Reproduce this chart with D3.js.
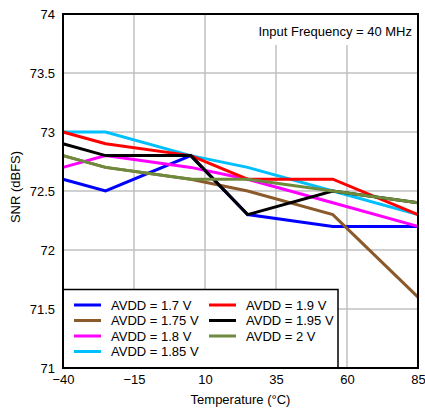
<!DOCTYPE html>
<html><head><meta charset="utf-8">
<script src="https://cdn.jsdelivr.net/npm/d3@7"></script>
<style>body{margin:0;background:#fff;} text{font-family:"Liberation Sans",Arial,sans-serif;}</style>
</head><body>
<svg id="c" width="425" height="408"></svg>
<script>
const temps = [-40, -25, 5, 25, 55, 85];
const seriesNames = ["AVDD = 1.7 V","AVDD = 1.75 V","AVDD = 1.8 V","AVDD = 1.85 V","AVDD = 1.9 V","AVDD = 1.95 V","AVDD = 2 V"];
const seriesColors = ["#0000FF","#8B5A2B","#FF00FF","#00BFFF","#FF0000","#000000","#6E8B3D"];
const avdd170 = [72.6, 72.5, 72.8, 72.3, 72.2, 72.2];
const avdd175 = [72.8, 72.7, 72.6, 72.5, 72.3, 71.6];
const avdd180 = [72.7, 72.8, 72.7, 72.6, 72.4, 72.2];
const avdd185 = [73.0, 73.0, 72.8, 72.7, 72.5, 72.3];
const avdd190 = [73.0, 72.9, 72.8, 72.6, 72.6, 72.3];
const avdd195 = [72.9, 72.8, 72.8, 72.3, 72.5, 72.4];
const avdd200 = [72.8, 72.7, 72.6, 72.6, 72.5, 72.4];
const xTicks = [-40, -15, 10, 35, 60, 85];
const yTicks = [71, 71.5, 72, 72.5, 73, 73.5, 74];
const allSeries = [avdd170, avdd175, avdd180, avdd185, avdd190, avdd195, avdd200];

const L = 63, R = 418, T = 14, B = 368;
const FS = 13;
const svg = d3.select("#c");
const x = d3.scaleLinear().domain([-40, 85]).range([L, R]);
const y = d3.scaleLinear().domain([71, 74]).range([B, T]);

// grid
svg.append("g").selectAll("line").data(xTicks.slice(1, -1)).join("line")
  .attr("x1", d => x(d)).attr("x2", d => x(d)).attr("y1", T).attr("y2", B)
  .attr("stroke", "#c0c0c0").attr("stroke-width", 1.5);
svg.append("g").selectAll("line").data(yTicks.slice(1, -1)).join("line")
  .attr("y1", d => y(d)).attr("y2", d => y(d)).attr("x1", L).attr("x2", R)
  .attr("stroke", "#c0c0c0").attr("stroke-width", 1.5);

// annotation background
svg.append("rect").attr("x", 254).attr("y", T + 1).attr("width", R - 255).attr("height", 30).attr("fill", "#fff");
svg.append("text").attr("x", 412).attr("y", 36).attr("text-anchor", "end")
  .attr("font-size", FS).attr("fill", "#000").text("Input Frequency = 40 MHz");

// lines
const line = d3.line().x((d, i) => x(temps[i])).y(d => y(d));
svg.append("g").selectAll("path").data(allSeries).join("path")
  .attr("d", d => line(d)).attr("fill", "none")
  .attr("stroke", (d, i) => seriesColors[i]).attr("stroke-width", 3)
  .attr("stroke-linejoin", "miter");

// legend
const lg = svg.append("g");
lg.append("rect").attr("x", L).attr("y", 289.5).attr("width", 338 - L).attr("height", B - 289.5)
  .attr("fill", "#fff").attr("stroke", "#000").attr("stroke-width", 1.5);
const rowY = [305, 320.5, 336, 351.5];
seriesNames.forEach((n, i) => {
  const col = i < 4 ? 0 : 1;
  const row = i < 4 ? i : i - 4;
  const lx = col === 0 ? 74 : 209;
  const yy = rowY[row];
  lg.append("line").attr("x1", lx).attr("x2", lx + 27).attr("y1", yy).attr("y2", yy)
    .attr("stroke", seriesColors[i]).attr("stroke-width", 3);
  lg.append("text").attr("x", lx + 37).attr("y", yy + 4.5).attr("font-size", FS).attr("fill", "#000").text(n);
});

// frame
svg.append("rect").attr("x", L).attr("y", T).attr("width", R - L).attr("height", B - T)
  .attr("fill", "none").attr("stroke", "#000").attr("stroke-width", 2);

// axes
const xa = svg.append("g").attr("transform", `translate(0,${B})`)
  .call(d3.axisBottom(x).tickValues(xTicks).tickSize(0).tickPadding(7).tickFormat(d => d < 0 ? "\u2212" + Math.abs(d) : d));
const ya = svg.append("g").attr("transform", `translate(${L},0)`)
  .call(d3.axisLeft(y).tickValues(yTicks).tickSize(0).tickPadding(8).tickFormat(d3.format("")));
[xa, ya].forEach(a => {
  a.select(".domain").remove();
  a.selectAll("text").attr("font-size", FS).attr("fill", "#000").attr("font-family", "Liberation Sans, Arial, sans-serif");
});

svg.append("text").attr("x", (L + R) / 2).attr("y", 404).attr("text-anchor", "middle")
  .attr("font-size", FS).attr("fill", "#000").text("Temperature (\u00B0C)");
svg.append("text").attr("transform", `translate(20,${(T + B) / 2 - 4}) rotate(-90)`).attr("text-anchor", "middle")
  .attr("font-size", FS).attr("fill", "#000").text("SNR (dBFS)");
</script>
</body></html>
